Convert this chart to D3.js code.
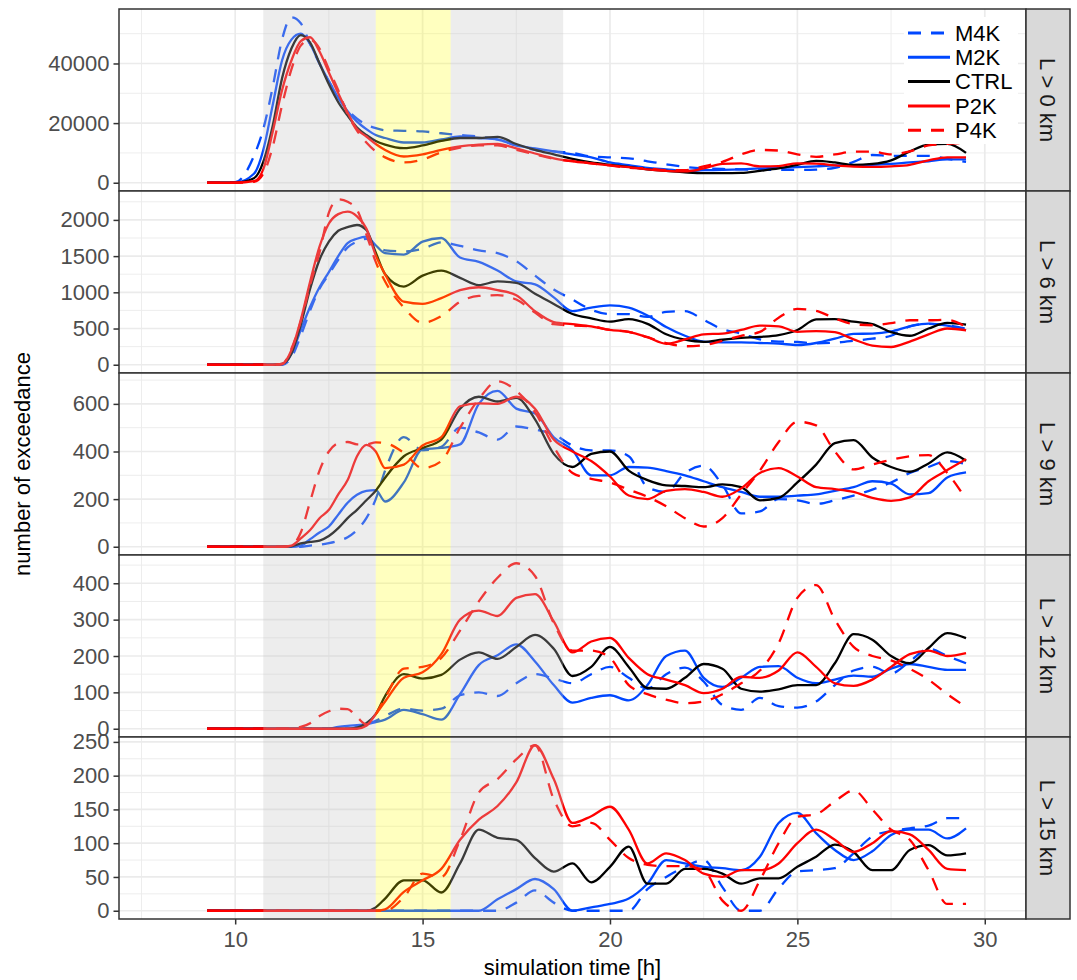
<!DOCTYPE html>
<html>
<head>
<meta charset="utf-8">
<script src="https://cdn.jsdelivr.net/npm/d3@7"></script>
<style>
  body { margin: 0; background: #fff; }
  svg { display: block; font-family: "Liberation Sans", Arial, sans-serif; }
</style>
</head>
<body>
<div id="chart"></div>
<script>
// simulation time [h], shared by every series
const time = [9.25, 10, 10.5, 10.75, 11, 11.25, 11.5, 11.75, 12, 12.25, 12.5, 12.75, 13, 13.25, 13.5, 13.75,
  14, 14.5, 15, 15.5, 16, 16.5, 17, 17.5, 18, 18.5, 19, 19.5, 20, 20.5, 21, 21.5,
  22, 22.5, 23, 23.5, 24, 24.5, 25, 25.5, 26, 26.5, 27, 27.5, 28, 28.5, 29, 29.5];

// L > 0 km
const l0_M4K = [0, 200, 9000, 18000, 32000, 48000, 55500, 53500, 46500, 40000, 34000, 29000, 24500, 21500, 19500, 18300,
  17600, 17400, 17200, 16600, 16000, 15500, 14500, 12500, 11000, 10500, 10000, 8800, 8500, 8200, 7200, 6200,
  5300, 4800, 4600, 4500, 4300, 4300, 4300, 4400, 5000, 7000, 9300, 9000, 9000, 9000, 8000, 7000];
const l0_M2K = [0, 0, 3000, 11000, 26000, 41000, 48000, 50000, 46500, 40000, 34000, 28500, 24000, 20500, 18000, 16000,
  15000, 13500, 13500, 14500, 15500, 15000, 14500, 12500, 11500, 10500, 9500, 8500, 6800, 5900, 5000, 4500,
  4000, 4200, 4300, 4500, 4800, 5000, 5200, 5500, 5800, 5900, 6000, 6300, 6800, 7200, 7800, 7800];
const l0_CTRL = [0, 0, 1500, 7000, 19000, 35000, 45000, 49500, 47000, 40000, 33000, 27000, 22500, 18500, 16000, 14000,
  12800, 11600, 12500, 14000, 15000, 15000, 15400, 13000, 11000, 9500, 8000, 6800, 6000, 5300, 4500, 4000,
  3500, 3200, 3200, 3300, 4000, 4800, 6000, 7300, 6800, 6000, 6300, 7500, 10500, 12800, 13000, 10000];
const l0_P2K = [0, 0, 500, 4500, 17000, 31000, 41000, 47500, 48800, 44000, 37000, 30000, 23500, 18000, 15500, 13000,
  11000, 8800, 9500, 11000, 12200, 12800, 13000, 11500, 9800, 8200, 7200, 6500, 5800, 5200, 4500, 4000,
  3800, 4800, 6300, 6500, 5500, 5600, 6500, 6400, 5800, 5400, 5300, 5500, 6000, 7500, 8500, 8500];
const l0_P4K = [0, 0, 300, 3000, 12000, 26000, 38000, 46000, 48000, 45000, 38000, 31000, 23000, 17500, 13500, 10500,
  8500, 6800, 7800, 10200, 11800, 12500, 12500, 11000, 9500, 8000, 7300, 6500, 5800, 5000, 4800, 4200,
  4200, 5500, 7000, 9500, 11000, 10800, 9500, 8700, 9500, 10400, 10400, 9500, 10500, 12500, 13000, 13500];

// L > 6 km
const l6_M4K = [0, 0, 0, 0, 0, 0, 100, 400, 750, 1050, 1250, 1450, 1620, 1700, 1740, 1640,
  1580, 1565, 1600, 1690, 1640, 1580, 1540, 1430, 1230, 1040, 900, 760, 700, 700, 660, 730,
  740, 620, 490, 430, 350, 320, 314, 295, 305, 330, 360, 400, 530, 565, 545, 499];
const l6_M2K = [0, 0, 0, 0, 0, 0, 150, 480, 800, 1070, 1280, 1500, 1680, 1740, 1768, 1650,
  1540, 1520, 1700, 1750, 1480, 1420, 1300, 1150, 1110, 930, 740, 790, 820, 790, 680, 520,
  400, 320, 310, 310, 300, 292, 272, 300, 360, 425, 430, 460, 530, 568, 540, 476];
const l6_CTRL = [0, 0, 0, 0, 0, 10, 150, 550, 1050, 1450, 1700, 1850, 1900, 1930, 1860, 1550,
  1250, 1080, 1230, 1300, 1200, 1100, 1150, 1130, 980, 840, 700, 640, 595, 630, 565, 420,
  345, 315, 345, 370, 385, 410, 480, 625, 630, 595, 560, 450, 400, 500, 577, 554];
const l6_P2K = [0, 0, 0, 0, 0, 10, 200, 620, 1150, 1630, 1950, 2080, 2115, 2050, 1880, 1510,
  1250, 870, 840, 920, 1030, 1070, 1030, 960, 740, 590, 560, 530, 480, 455, 380, 290,
  350, 420, 430, 480, 540, 530, 455, 465, 450, 350, 265, 245, 320, 420, 500, 476];
const l6_P4K = [0, 0, 0, 0, 0, 10, 220, 600, 1100, 1550, 2100, 2285, 2250, 2140, 1800, 1420,
  1150, 790, 580, 670, 870, 950, 960, 900, 720, 560, 540, 530, 480, 455, 380, 300,
  255, 270, 330, 400, 453, 650, 770, 745, 640, 560, 545, 575, 614, 614, 620, 522];

// L > 9 km
const l9_M4K = [0, 0, 0, 0, 0, 0, 0, 0, 5, 8, 15, 25, 40, 70, 120, 200,
  320, 460, 405, 420, 500, 480, 450, 505, 492, 472, 425, 405, 405, 380, 250, 230,
  310, 340, 260, 140, 148, 200, 195, 180, 195, 215, 240, 270, 310, 335, 360, 347];
const l9_M2K = [0, 0, 0, 0, 0, 0, 0, 5, 32, 60, 85, 135, 185, 218, 235, 238,
  190, 270, 410, 415, 430, 600, 655, 580, 560, 460, 405, 300, 300, 335, 332, 318,
  300, 275, 250, 230, 210, 210, 215, 220, 235, 250, 275, 265, 220, 225, 291, 312];
const l9_CTRL = [0, 0, 0, 0, 0, 0, 2, 14, 20, 26, 45, 78, 120, 155, 195, 235,
  290, 380, 415, 450, 580, 630, 610, 625, 535, 390, 335, 390, 400, 320, 280, 258,
  255, 250, 262, 250, 195, 205, 270, 345, 435, 448, 375, 335, 315, 350, 396, 361];
const l9_P2K = [0, 0, 0, 0, 0, 0, 5, 35, 70, 120, 155, 220, 280, 380, 428, 400,
  330, 345, 425, 460, 590, 602, 600, 630, 580, 450, 400, 360, 295, 215, 200, 235,
  242, 230, 210, 245, 310, 330, 295, 250, 242, 230, 205, 193, 207, 275, 322, 368];
const l9_P4K = [0, 0, 0, 0, 0, 0, 5, 60, 190, 320, 400, 435, 440, 430, 430, 438,
  435, 395, 330, 360, 500, 620, 695, 655, 565, 420, 310, 285, 270, 240, 210, 170,
  120, 85, 120, 220, 320, 440, 525, 510, 400, 325, 345, 365, 380, 385, 310, 200];

// L > 12 km
const l12_M4K = [0, 0, 0, 0, 0, 0, 0, 0, 0, 0, 0, 0, 0, 5, 12, 22,
  35, 55, 50, 55, 92, 100, 90, 125, 150, 138, 125, 150, 170, 140, 110, 150,
  168, 130, 65, 52, 85, 62, 58, 75, 120, 160, 170, 152, 185, 220, 200, 180];
const l12_M2K = [0, 0, 0, 0, 0, 0, 0, 0, 0, 0, 0, 5, 8, 10, 12, 18,
  25, 52, 40, 25, 95, 175, 202, 232, 185, 120, 72, 85, 92, 78, 120, 200,
  215, 140, 115, 140, 170, 172, 140, 125, 135, 146, 143, 165, 178, 170, 162, 162];
const l12_CTRL = [0, 0, 0, 0, 0, 0, 0, 0, 0, 0, 0, 0, 0, 3, 15, 40,
  90, 150, 138, 148, 190, 210, 192, 225, 258, 220, 145, 170, 225, 170, 112, 110,
  140, 178, 165, 110, 102, 108, 120, 120, 180, 260, 245, 200, 180, 222, 263, 249];
const l12_P2K = [0, 0, 0, 0, 0, 0, 0, 0, 0, 0, 0, 0, 0, 0, 8, 40,
  75, 140, 155, 205, 300, 325, 310, 360, 370, 295, 210, 240, 250, 195, 150, 135,
  120, 98, 110, 143, 140, 160, 210, 170, 125, 118, 135, 170, 205, 215, 200, 208];
const l12_P4K = [0, 0, 0, 0, 0, 0, 0, 5, 15, 35, 48, 55, 54, 32, 12, 40,
  85, 165, 170, 195, 270, 350, 415, 455, 420, 290, 215, 215, 195, 120, 95, 80,
  70, 75, 95, 125, 160, 235, 360, 395, 300, 225, 200, 188, 165, 135, 95, 60];

// L > 15 km
const l15_M4K = [0, 0, 0, 0, 0, 0, 0, 0, 0, 0, 0, 0, 0, 0, 0, 0,
  0, 0, 0, 0, 0, 0, 0, 12, 30, 12, 0, 0, 0, 0, 32, 50,
  65, 75, 35, 0, 0, 33, 58, 60, 63, 85, 110, 118, 122, 126, 137, 137];
const l15_M2K = [0, 0, 0, 0, 0, 0, 0, 0, 0, 0, 0, 0, 0, 0, 0, 0,
  0, 0, 0, 0, 0, 0, 17, 32, 47, 32, 0, 5, 10, 18, 40, 75,
  70, 65, 63, 60, 80, 130, 145, 115, 90, 75, 88, 112, 120, 120, 107, 122];
const l15_CTRL = [0, 0, 0, 0, 0, 0, 0, 0, 0, 0, 0, 0, 0, 0, 0, 5,
  18, 45, 45, 27, 70, 120, 108, 105, 78, 58, 70, 42, 65, 95, 40, 40,
  62, 62, 55, 40, 48, 48, 65, 80, 98, 87, 60, 60, 90, 97, 82, 85];
const l15_P2K = [0, 0, 0, 0, 0, 0, 0, 0, 0, 0, 0, 0, 0, 0, 0, 0,
  2, 28, 45, 62, 105, 135, 155, 190, 245, 195, 130, 140, 154, 120, 70, 85,
  75, 55, 50, 60, 60, 70, 100, 120, 105, 87, 100, 118, 113, 90, 62, 60];
const l15_P4K = [0, 0, 0, 0, 0, 0, 0, 0, 0, 0, 0, 0, 0, 0, 0, 0,
  0, 20, 55, 50, 105, 175, 195, 224, 245, 165, 125, 130, 105, 78, 68, 66,
  66, 60, 15, 0, 45, 100, 139, 143, 162, 178, 150, 120, 105, 60, 10, 10];

const seriesNames = ["M4K", "M2K", "CTRL", "P2K", "P4K"];
const seriesColor = { M4K: "#0047ff", M2K: "#0047ff", CTRL: "#000000", P2K: "#ff0000", P4K: "#ff0000" };
const seriesDash = { M4K: "13,10", M2K: null, CTRL: null, P2K: null, P4K: "13,10" };

const panelLabels = ["L > 0 km", "L > 6 km", "L > 9 km", "L > 12 km", "L > 15 km"];
const panelSeries = [
  [l0_M4K, l0_M2K, l0_CTRL, l0_P2K, l0_P4K],
  [l6_M4K, l6_M2K, l6_CTRL, l6_P2K, l6_P4K],
  [l9_M4K, l9_M2K, l9_CTRL, l9_P2K, l9_P4K],
  [l12_M4K, l12_M2K, l12_CTRL, l12_P2K, l12_P4K],
  [l15_M4K, l15_M2K, l15_CTRL, l15_P2K, l15_P4K]
];
const yTicks = [
  [0, 20000, 40000],
  [0, 500, 1000, 1500, 2000],
  [0, 200, 400, 600],
  [0, 100, 200, 300, 400],
  [0, 50, 100, 150, 200, 250]
];
const xTicks = [10, 15, 20, 25, 30];
const xMinor = [7.5, 12.5, 17.5, 22.5, 27.5];
const xLimits = [8, 30];

// shaded periods drawn over the lines
const shadeFrom = [10.75, 13.75, 15.75];
const shadeTo = [13.75, 15.75, 18.75];
const shadeFill = ["#c4c4c4", "#ffff00", "#c4c4c4"];
const shadeOpacity = [0.3, 0.25, 0.3];

const W = 1077, H = 980;
const plotL = 119, plotR = 1026, plotT = 9, panelH = 182, stripW = 44;
const fontSize = 22;

const svg = d3.select("#chart").append("svg")
  .attr("width", W).attr("height", H);

const span = xLimits[1] - xLimits[0];
const x = d3.scaleLinear()
  .domain([xLimits[0] - 0.05 * span, xLimits[1] + 0.05 * span])
  .range([plotL, plotR]);

panelSeries.forEach(function (series, i) {
  const y0 = plotT + i * panelH, y1 = y0 + panelH;
  const vmax = d3.max(series, s => d3.max(s));
  const y = d3.scaleLinear()
    .domain([-0.05 * vmax, 1.05 * vmax])
    .range([y1, y0]);

  const g = svg.append("g");
  g.append("clipPath").attr("id", "clip" + i)
    .append("rect").attr("x", plotL).attr("y", y0).attr("width", plotR - plotL).attr("height", panelH);

  g.append("rect").attr("x", plotL).attr("y", y0).attr("width", plotR - plotL).attr("height", panelH)
    .attr("fill", "#fff");

  // grid
  const step = yTicks[i][1] - yTicks[i][0];
  const yMinor = yTicks[i].map(v => v + step / 2).filter(v => v < y.domain()[1]);
  const grid = g.append("g").attr("clip-path", "url(#clip" + i + ")");
  grid.selectAll(".ymin").data(yMinor).join("line")
    .attr("x1", plotL).attr("x2", plotR).attr("y1", d => y(d)).attr("y2", d => y(d))
    .attr("stroke", "#ebebeb").attr("stroke-width", 0.9);
  grid.selectAll(".xmin").data(xMinor).join("line")
    .attr("y1", y0).attr("y2", y1).attr("x1", d => x(d)).attr("x2", d => x(d))
    .attr("stroke", "#ebebeb").attr("stroke-width", 0.9);
  grid.selectAll(".ymaj").data(yTicks[i]).join("line")
    .attr("x1", plotL).attr("x2", plotR).attr("y1", d => y(d)).attr("y2", d => y(d))
    .attr("stroke", "#ebebeb").attr("stroke-width", 1.7);
  grid.selectAll(".xmaj").data(xTicks).join("line")
    .attr("y1", y0).attr("y2", y1).attr("x1", d => x(d)).attr("x2", d => x(d))
    .attr("stroke", "#ebebeb").attr("stroke-width", 1.7);

  // lines
  const line = d3.line()
    .x((d, k) => x(time[k]))
    .y(d => y(d))
    .curve(d3.curveMonotoneX);
  const lines = g.append("g").attr("clip-path", "url(#clip" + i + ")");
  series.forEach(function (s, k) {
    const name = seriesNames[k];
    lines.append("path")
      .datum(s)
      .attr("fill", "none")
      .attr("stroke", seriesColor[name])
      .attr("stroke-width", 2.3)
      .attr("stroke-dasharray", seriesDash[name])
      .attr("stroke-linejoin", "round")
      .attr("d", line);
  });

  // shaded periods
  shadeFrom.forEach(function (f, k) {
    g.append("rect")
      .attr("x", x(f)).attr("y", y0)
      .attr("width", x(shadeTo[k]) - x(f)).attr("height", panelH)
      .attr("fill", shadeFill[k]).attr("fill-opacity", shadeOpacity[k]);
  });

  // legend in first panel
  if (i === 0) {
    const lg = g.append("g");
    lg.append("rect").attr("x", 904).attr("y", 17).attr("width", 114).attr("height", 127).attr("fill", "#fff");
    seriesNames.forEach(function (name, k) {
      const ly = 33 + k * 24.3;
      lg.append("line")
        .attr("x1", 908).attr("x2", 950).attr("y1", ly).attr("y2", ly)
        .attr("stroke", seriesColor[name]).attr("stroke-width", 3)
        .attr("stroke-dasharray", seriesDash[name]);
      lg.append("text")
        .attr("x", 955).attr("y", ly).attr("dy", "0.35em")
        .attr("font-size", fontSize).attr("fill", "#000")
        .text(name);
    });
  }

  // border
  g.append("rect").attr("x", plotL).attr("y", y0).attr("width", plotR - plotL).attr("height", panelH)
    .attr("fill", "none").attr("stroke", "#333").attr("stroke-width", 1.5);

  // strip
  g.append("rect").attr("x", plotR).attr("y", y0).attr("width", stripW).attr("height", panelH)
    .attr("fill", "#d9d9d9").attr("stroke", "#333").attr("stroke-width", 1.5);
  g.append("text")
    .attr("transform", "translate(" + (plotR + stripW / 2) + "," + (y0 + panelH / 2) + ") rotate(90)")
    .attr("text-anchor", "middle").attr("dy", "0.35em")
    .attr("font-size", fontSize).attr("fill", "#1a1a1a")
    .text(panelLabels[i]);

  // y axis
  const ya = g.append("g").attr("transform", "translate(" + plotL + ",0)")
    .call(d3.axisLeft(y).tickValues(yTicks[i]).tickSize(5.5).tickPadding(4).tickFormat(d3.format("d")));
  ya.select(".domain").remove();
  ya.selectAll(".tick line").attr("stroke", "#333").attr("stroke-width", 1.5);
  ya.selectAll(".tick text").attr("fill", "#4d4d4d").attr("font-size", fontSize)
    .attr("font-family", "Liberation Sans, Arial, sans-serif");

  if (i === panelSeries.length - 1) {
    const xa = g.append("g").attr("transform", "translate(0," + y1 + ")")
      .call(d3.axisBottom(x).tickValues(xTicks).tickSize(5.5).tickPadding(7));
    xa.select(".domain").remove();
    xa.selectAll(".tick line").attr("stroke", "#333").attr("stroke-width", 1.5);
    xa.selectAll(".tick text").attr("fill", "#4d4d4d").attr("font-size", fontSize)
      .attr("font-family", "Liberation Sans, Arial, sans-serif");
  }
});

svg.append("text")
  .attr("x", (plotL + plotR) / 2).attr("y", 975)
  .attr("text-anchor", "middle").attr("font-size", fontSize).attr("fill", "#000")
  .text("simulation time [h]");

svg.append("text")
  .attr("transform", "translate(30," + (plotT + panelH * 2.5) + ") rotate(-90)")
  .attr("text-anchor", "middle").attr("font-size", fontSize).attr("fill", "#000")
  .text("number of exceedance");
</script>
</body>
</html>
